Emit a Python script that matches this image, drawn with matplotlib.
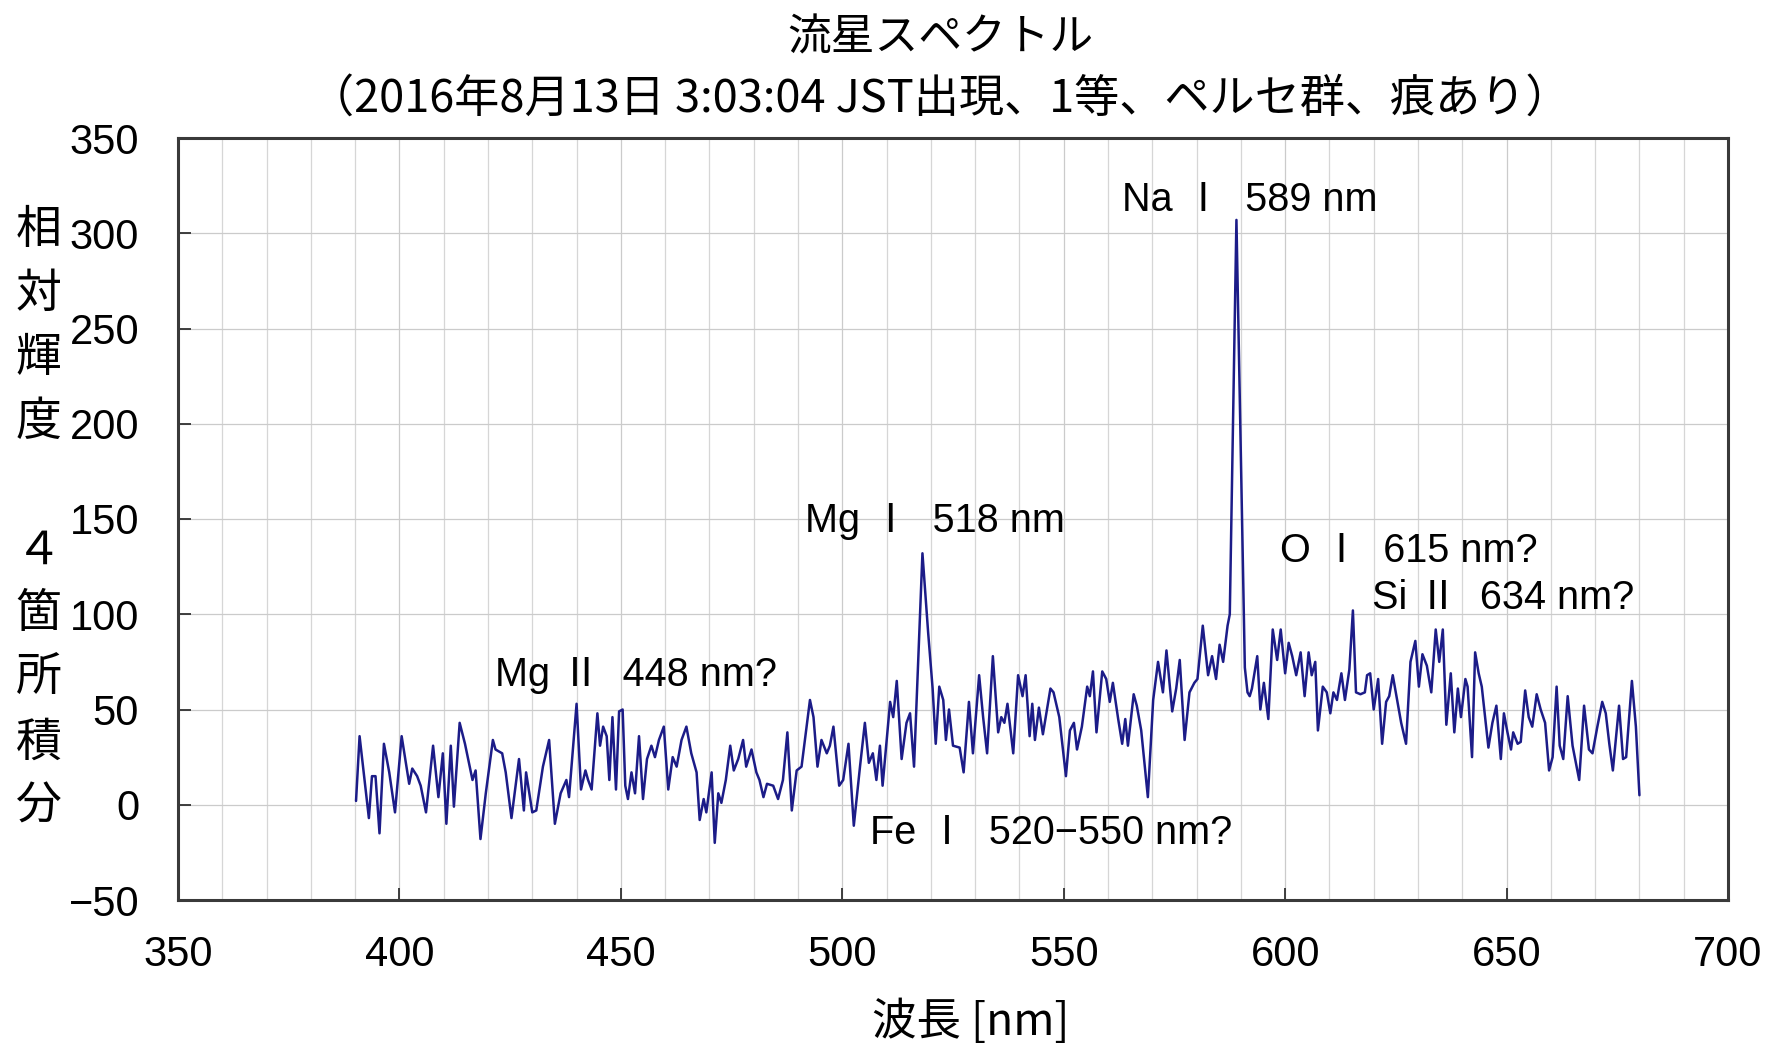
import matplotlib
matplotlib.use("Agg")
import matplotlib.pyplot as plt
from matplotlib.ticker import MultipleLocator

# ---------------- data ----------------
wavelength_nm = [
    390.2, 391.0, 393.1, 393.8, 394.6, 395.5, 396.5, 397.7, 399.0, 400.5,
    402.2, 402.9, 404.0, 404.8, 406.0, 407.6, 408.8, 409.8, 410.6, 411.6,
    412.3, 413.6, 414.8, 416.5, 417.2, 418.3, 419.5, 421.1, 421.7, 423.2,
    424.0, 425.3, 427.0, 428.1, 428.6, 430.0, 430.9, 432.4, 433.8, 435.1,
    436.4, 437.7, 438.3, 440.0, 441.0, 442.0, 442.6, 443.4, 444.7, 445.3,
    446.0, 446.8, 447.4, 448.1, 448.9, 449.6, 450.4, 451.0, 451.6, 452.4,
    453.2, 454.1, 455.0, 455.9, 456.9, 457.7, 458.6, 459.7, 460.7, 461.7,
    462.6, 463.7, 464.8, 465.9, 467.1, 467.8, 468.7, 469.3, 470.5, 471.2,
    472.0, 472.7, 473.7, 474.7, 475.5, 476.5, 477.6, 478.3, 479.5, 480.6,
    481.3, 482.2, 483.0, 484.4, 485.5, 486.6, 487.6, 488.6, 489.7, 490.8,
    492.7, 493.5, 494.4, 495.3, 496.5, 497.2, 498.0, 499.3, 500.2, 501.4,
    502.6, 504.0, 505.1, 506.0, 506.9, 507.7, 508.5, 509.1, 510.8, 511.5,
    512.3, 513.4, 514.5, 515.3, 516.2, 518.1, 519.4, 520.4, 521.1, 521.9,
    522.8, 523.4, 524.1, 525.0, 526.5, 527.4, 528.6, 529.5, 530.9, 531.8,
    532.7, 534.0, 535.2, 535.9, 536.6, 537.3, 538.6, 539.7, 540.7, 541.4,
    542.3, 542.9, 543.5, 544.4, 545.3, 547.0, 547.7, 549.0, 550.5, 551.4,
    552.3, 553.0, 554.1, 555.3, 555.9, 556.6, 557.4, 558.7, 559.6, 560.4,
    561.1, 562.3, 563.2, 563.9, 564.5, 565.8, 566.5, 567.5, 569.0, 570.2,
    571.3, 572.4, 573.2, 574.5, 575.4, 576.2, 577.3, 578.4, 579.5, 580.2,
    581.4, 582.6, 583.5, 584.4, 585.2, 586.0, 587.0, 587.5, 589.0, 590.9,
    591.5, 592.0, 592.5, 593.7, 594.4, 595.2, 596.2, 597.2, 598.2, 599.0,
    600.0, 600.8, 601.6, 602.5, 603.5, 604.4, 605.3, 606.0, 606.8, 607.4,
    608.5, 609.4, 610.2, 610.9, 611.7, 612.7, 613.5, 614.5, 615.3, 616.0,
    617.0, 618.0, 618.5, 619.2, 620.0, 621.0, 621.9, 622.8, 623.5, 624.3,
    625.3, 626.2, 627.3, 628.3, 629.4, 630.2, 631.0, 632.0, 633.0, 634.0,
    634.8, 635.6, 636.4, 637.4, 638.2, 639.0, 639.7, 640.7, 641.2, 642.2,
    642.9, 643.7, 644.4, 645.9, 646.8, 647.7, 648.7, 649.4, 650.2, 651.0,
    651.5, 652.5, 653.2, 654.2, 655.0, 655.8, 656.8, 657.7, 658.7, 659.6,
    660.4, 661.3, 662.0, 662.8, 663.8, 664.9, 666.4, 667.5, 668.6, 669.4,
    670.5, 671.6, 672.4, 673.2, 674.0, 675.4, 676.3, 677.0, 678.3, 679.2,
    680.0,
]
intensity = [
    2, 36, -7, 15, 15, -15, 32, 17, -4, 36,
    11, 19, 15, 10, -4, 31, 4, 27, -10, 31,
    -1, 43, 32, 13, 18, -18, 6, 34, 29, 27,
    17, -7, 24, -3, 17, -4, -3, 20, 34, -10,
    6, 13, 4, 53, 8, 18, 13, 8, 48, 31,
    41, 36, 13, 46, 8, 49, 50, 10, 3, 17,
    6, 36, 3, 24, 31, 25, 34, 41, 8, 25,
    20, 34, 41, 27, 17, -8, 3, -4, 17, -20,
    6, 1, 13, 31, 18, 24, 34, 20, 29, 17,
    13, 4, 11, 10, 3, 13, 38, -3, 18, 20,
    55, 46, 20, 34, 27, 31, 41, 10, 13, 32,
    -11, 20, 43, 22, 27, 13, 31, 10, 54, 46,
    65, 24, 43, 48, 20, 132, 90, 61, 32, 62,
    55, 34, 50, 31, 30, 17, 54, 27, 68, 46,
    27, 78, 38, 46, 43, 53, 27, 68, 57, 68,
    36, 53, 34, 51, 37, 61, 59, 46, 15, 39,
    43, 29, 41, 62, 57, 70, 38, 70, 66, 54,
    64, 45, 32, 45, 31, 58, 52, 39, 4, 55,
    75, 59, 81, 49, 61, 76, 34, 59, 64, 66,
    94, 68, 78, 66, 84, 75, 94, 100, 307, 72,
    59, 57, 61, 78, 50, 64, 45, 92, 76, 92,
    69, 85, 78, 68, 80, 57, 80, 68, 75, 39,
    62, 59, 48, 59, 55, 69, 55, 71, 102, 59,
    58, 59, 68, 69, 50, 66, 32, 54, 57, 68,
    55, 43, 32, 75, 86, 62, 79, 73, 59, 92,
    75, 92, 42, 69, 38, 61, 46, 66, 62, 25,
    80, 69, 62, 30, 43, 52, 24, 48, 38, 29,
    38, 32, 33, 60, 46, 41, 58, 50, 43, 18,
    25, 62, 31, 24, 57, 31, 13, 52, 29, 27,
    41, 54, 48, 32, 18, 52, 24, 25, 65, 41,
    5,
]

line_labels = ["Na Ⅰ  589 nm", "Mg Ⅰ  518 nm", "O Ⅰ  615 nm?",
               "Si Ⅱ  634 nm?", "Mg Ⅱ  448 nm?", "Fe Ⅰ  520\u2212550 nm?"]
label_x = [563.1, 491.5, 598.8, 619.7, 421.6, 506.3]
label_y = [317.4, 148.8, 133.4, 108.5, 68.1, -15.0]

title_line1 = "流星スペクトル"
title_line2 = "（2016年8月13日 3:03:04 JST出現、1等、ペルセ群、痕あり）"
ylabel_chars = ["相", "対", "輝", "度", "", "４", "箇", "所", "積", "分"]
xlabel = "波長 [nm]"

# ---------------- style ----------------
JP = ["Noto Sans CJK JP", "DejaVu Sans"]
LAT = ["Liberation Sans", "Noto Sans CJK JP", "DejaVu Sans"]
plt.rcParams["font.family"] = LAT

W, H, DPI = 1771, 1045, 100
fig = plt.figure(figsize=(W / DPI, H / DPI), dpi=DPI)
fig.patch.set_facecolor("white")
ax = fig.add_axes([178 / W, 1 - 900 / H, (1728 - 178) / W, (900 - 138) / H])

ax.plot(wavelength_nm, intensity, color="#1c1c88", lw=1.8, zorder=3,
        solid_joinstyle="round", solid_capstyle="round")

ax.set_xlim(350, 700)
ax.set_ylim(-50, 350)
ax.xaxis.set_major_locator(MultipleLocator(50))
ax.xaxis.set_minor_locator(MultipleLocator(10))
ax.yaxis.set_major_locator(MultipleLocator(50))

ax.grid(True, which="major", axis="both", color="#cbcbcb", lw=0.9, zorder=0)
ax.grid(True, which="minor", axis="x", color="#d6d6d6", lw=0.9, zorder=0)

ax.tick_params(axis="both", which="major", direction="in", length=9,
               width=1.3, color="#303030", labelsize=30)
ax.tick_params(axis="x", which="major", pad=25)
ax.tick_params(axis="y", which="major", pad=28)
ax.tick_params(axis="both", which="minor", length=0)
for lab in ax.get_xticklabels() + ax.get_yticklabels():
    lab.set_fontfamily(LAT)

for sp in ax.spines.values():
    sp.set_color("#3a3a3a")
    sp.set_linewidth(2.2)

for t, x, y in zip(line_labels, label_x, label_y):
    ax.text(x, y, t, ha="left", va="center", fontsize=28.5,
            family=LAT, color="black", zorder=4)

# titles
fig.text(940 / W, 1 - 37 / H, title_line1, ha="center", va="center",
         fontsize=31.5, family=JP)
fig.text(940 / W, 1 - 99 / H, title_line2, ha="center", va="center",
         fontsize=32.5, family=JP)

# vertical stacked y label
for i, ch in enumerate(ylabel_chars):
    if ch:
        fig.text(38.5 / W, 1 - (230 + 64 * i) / H, ch, ha="center",
                 va="center", fontsize=33, family=JP)

fig.text(971 / W, 1 - 1022 / H, xlabel, ha="center", va="center",
         fontsize=32, family=JP)

fig.savefig("out.png", dpi=DPI, facecolor="white")
